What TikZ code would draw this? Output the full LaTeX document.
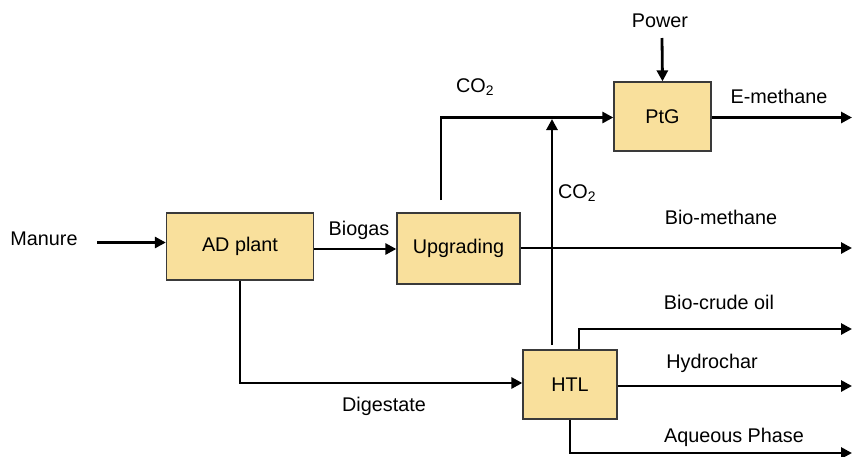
\documentclass[tikz,border=0pt]{standalone}
\usepackage{fontspec}
\setmainfont{Liberation Sans}
\usetikzlibrary{arrows.meta}
\definecolor{boxfill}{HTML}{F9E09C}
\definecolor{boxline}{HTML}{3A3A3A}
\tikzset{
  unit/.style={draw=boxline, line width=1.3pt, fill=boxfill, inner sep=0pt},
  flow/.style={line width=2.8pt, -{Triangle[length=11pt,width=11pt]}},
  lbl/.style={inner sep=0pt, font=\fontsize{19.8}{23}\selectfont},
}
\newcommand{\cotwo}{CO\textsubscript{2}}
\begin{document}
\begin{tikzpicture}[x=1pt,y=-1pt]
\useasboundingbox (0,0) rectangle (852,456);

% process units
\node[unit, minimum width=147pt, minimum height=67pt, lbl] (ad) at (240,246.5) {AD plant};
\node[unit, minimum width=123pt, minimum height=71pt, lbl] (up) at (458.5,248.5) {Upgrading};
\node[unit, minimum width=97pt, minimum height=69pt, lbl] (ptg) at (662.5,116.5) {PtG};
\node[unit, minimum width=94pt, minimum height=69pt, lbl] (htl) at (570,384.5) {HTL};

% stream labels
\node[lbl] (tmanure) at (44,239) {Manure};
\node[lbl] (tbiogas) at (359,230) {Biogas};
\node[lbl] (tpower) at (660,21) {Power};
\node[lbl] (tco2a) at (475,87) {\cotwo};
\node[lbl] (tco2b) at (577,193) {\cotwo};
\node[lbl] (temeth) at (779,96) {E-methane};
\node[lbl] (tbiometh) at (721,217) {Bio-methane};
\node[lbl] (tcrude) at (719,302) {Bio-crude oil};
\node[lbl] (tchar) at (712,363) {Hydrochar};
\node[lbl] (taq) at (734,437) {Aqueous Phase};
\node[lbl] (tdig) at (384,406) {Digestate};

% free ends of streams
\coordinate (manurein) at (97,242.5);
\coordinate (powerin) at (662,38);
\coordinate (co2start) at (441,200);
\coordinate (co2corner) at (441,117.5);
\coordinate (htlco2start) at (552,345);
\coordinate (htlco2end) at (552,119);
\coordinate (emout) at (852,117.5);
\coordinate (bmout) at (852,248);
\coordinate (crudeout) at (852,329);
\coordinate (charout) at (852,386);
\coordinate (aqout) at (852,453);

% streams
\draw[flow] (manurein) -- (manurein -| ad.west);
\draw[flow] (ad.east |- 0,249) -- (up.west |- 0,249);
\draw[flow] (powerin) -- (ptg.north);
\draw[flow] (co2start) -- (co2corner) -- (co2corner -| ptg.west);
\draw[flow] (htlco2start) -- (htlco2end);
\draw[flow] (ptg.east |- emout) -- (emout);
\draw[flow] (up.east |- bmout) -- (bmout);
\draw[flow] (ad.south) -- (ad.south |- 0,383) -- (htl.west |- 0,383);
\draw[flow] (htl.north -| 579,0) -- (579,329) -- (crudeout);
\draw[flow] (htl.east |- charout) -- (charout);
\draw[flow] (htl.south) -- (htl.south |- aqout) -- (aqout);
\end{tikzpicture}
\end{document}
